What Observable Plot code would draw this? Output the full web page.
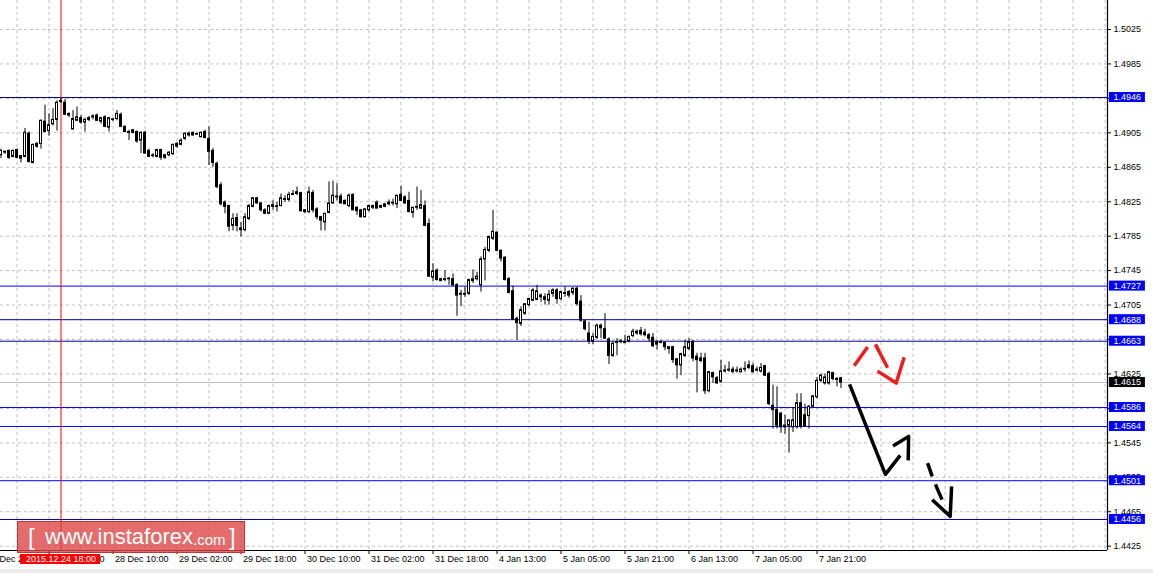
<!DOCTYPE html>
<html><head><meta charset="utf-8">
<script src="https://cdn.jsdelivr.net/npm/d3@7"></script>
<script src="https://cdn.jsdelivr.net/npm/@observablehq/plot@0.6"></script>
<style>
body{margin:0;background:#fff;}
#wrap{position:relative;width:1153px;height:573px;overflow:hidden;background:#fff;}
#wm{position:absolute;left:17px;top:521px;width:226px;height:30px;background:rgba(222,66,66,0.78);border:1px solid rgba(185,45,45,0.85);color:#fff;font-family:"Liberation Sans",Arial,sans-serif;}
#wm span{position:absolute;white-space:nowrap;}
#bot{position:absolute;left:0;top:569px;width:1153px;height:4px;background:#ececec;}
</style></head>
<body><div id="wrap"><div id="chart"></div>
<div id="wm"><span style="left:10px;top:1px;font-size:24px;font-weight:300">[</span><span style="left:27px;top:2px;font-size:22px">www.instaforex</span><span style="left:175px;top:9px;font-size:15px">.com</span><span style="left:211px;top:1px;font-size:24px;font-weight:300">]</span></div>
<div id="bot"></div></div>
<script>
// H1 candles, bar index 0..210 (bar 15 = 2015.12.24 18:00)
const open=[1.4879,1.4882,1.4884,1.4877,1.4885,1.4875,1.4877,1.4904,1.4870,1.4892,
1.4892,1.4918,1.4907,1.4915,1.4920,1.4941,1.4940,1.4925,1.4909,1.4919,
1.4922,1.4917,1.4920,1.4923,1.4925,1.4918,1.4923,1.4911,1.4920,1.4921,
1.4926,1.4912,1.4905,1.4908,1.4906,1.4896,1.4905,1.4884,1.4878,1.4877,
1.4885,1.4876,1.4879,1.4880,1.4889,1.4891,1.4898,1.4902,1.4905,1.4903,
1.4900,1.4906,1.4898,1.4884,1.4869,1.4844,1.4824,1.4820,1.4797,1.4806,
1.4794,1.4792,1.4805,1.4819,1.4829,1.4823,1.4815,1.4811,1.4819,1.4819,
1.4820,1.4828,1.4827,1.4834,1.4836,1.4835,1.4815,1.4813,1.4835,1.4816,
1.4807,1.4801,1.4812,1.4823,1.4830,1.4831,1.4826,1.4820,1.4833,1.4818,
1.4815,1.4807,1.4815,1.4818,1.4824,1.4818,1.4819,1.4822,1.4823,1.4822,
1.4833,1.4830,1.4826,1.4812,1.4818,1.4817,1.4820,1.4799,1.4737,1.4745,
1.4735,1.4734,1.4735,1.4735,1.4728,1.4717,1.4718,1.4718,1.4733,1.4735,
1.4728,1.4758,1.4768,1.4782,1.4789,1.4768,1.4760,1.4735,1.4721,1.4689,
1.4683,1.4695,1.4705,1.4710,1.4711,1.4714,1.4714,1.4710,1.4718,1.4722,
1.4712,1.4718,1.4720,1.4719,1.4724,1.4709,1.4686,1.4672,1.4663,1.4667,
1.4681,1.4677,1.4665,1.4646,1.4661,1.4662,1.4661,1.4663,1.4669,1.4672,
1.4675,1.4673,1.4670,1.4667,1.4659,1.4662,1.4661,1.4656,1.4656,1.4642,
1.4635,1.4646,1.4654,1.4662,1.4645,1.4643,1.4643,1.4605,1.4626,1.4620,
1.4616,1.4628,1.4629,1.4630,1.4628,1.4627,1.4630,1.4632,1.4634,1.4629,
1.4628,1.4634,1.4625,1.4588,1.4583,1.4579,1.4565,1.4565,1.4563,1.4563,
1.4591,1.4577,1.4576,1.4587,1.4598,1.4617,1.4614,1.4614,1.4626,1.4619,1.4620];
const high=[1.4886,1.4884,1.4885,1.4885,1.4886,1.4878,1.4910,1.4906,1.4892,1.4894,
1.4920,1.4937,1.4927,1.4933,1.4942,1.4946,1.4944,1.4928,1.4931,1.4935,
1.4925,1.4922,1.4924,1.4926,1.4927,1.4923,1.4925,1.4923,1.4922,1.4931,
1.4928,1.4913,1.4908,1.4909,1.4907,1.4906,1.4907,1.4886,1.4881,1.4886,
1.4886,1.4880,1.4883,1.4892,1.4894,1.4898,1.4905,1.4906,1.4906,1.4905,
1.4906,1.4908,1.4912,1.4887,1.4871,1.4847,1.4826,1.4821,1.4811,1.4811,
1.4801,1.4811,1.4822,1.4830,1.4830,1.4824,1.4817,1.4821,1.4826,1.4824,
1.4834,1.4832,1.4836,1.4838,1.4842,1.4836,1.4816,1.4842,1.4838,1.4818,
1.4808,1.4811,1.4848,1.4849,1.4846,1.4834,1.4827,1.4834,1.4834,1.4819,
1.4816,1.4817,1.4821,1.4821,1.4826,1.4821,1.4823,1.4827,1.4828,1.4832,
1.4843,1.4832,1.4836,1.4818,1.4842,1.4838,1.4826,1.4805,1.4753,1.4747,
1.4736,1.4745,1.4737,1.4741,1.4730,1.4722,1.4726,1.4735,1.4746,1.4743,
1.4761,1.4772,1.4785,1.4815,1.4790,1.4769,1.4761,1.4737,1.4727,1.4691,
1.4703,1.4706,1.4713,1.4724,1.4728,1.4718,1.4718,1.4722,1.4724,1.4724,
1.4721,1.4726,1.4722,1.4725,1.4726,1.4716,1.4687,1.4685,1.4672,1.4683,
1.4683,1.4695,1.4667,1.4662,1.4666,1.4665,1.4670,1.4669,1.4677,1.4676,
1.4679,1.4677,1.4672,1.4672,1.4664,1.4664,1.4662,1.4657,1.4657,1.4643,
1.4649,1.4664,1.4666,1.4664,1.4649,1.4649,1.4649,1.4628,1.4627,1.4622,
1.4641,1.4635,1.4639,1.4633,1.4633,1.4632,1.4639,1.4640,1.4637,1.4633,
1.4637,1.4635,1.4627,1.4612,1.4610,1.4580,1.4577,1.4571,1.4586,1.4602,
1.4602,1.4590,1.4588,1.4600,1.4621,1.4625,1.4625,1.4628,1.4627,1.4621,1.4621];
const low=[1.4875,1.4880,1.4874,1.4876,1.4875,1.4870,1.4876,1.4870,1.4869,1.4887,
1.4886,1.4905,1.4901,1.4913,1.4907,1.4939,1.4925,1.4923,1.4908,1.4918,
1.4915,1.4906,1.4918,1.4920,1.4918,1.4915,1.4911,1.4906,1.4918,1.4919,
1.4911,1.4905,1.4896,1.4904,1.4893,1.4881,1.4880,1.4877,1.4876,1.4876,
1.4873,1.4874,1.4877,1.4879,1.4887,1.4890,1.4896,1.4900,1.4901,1.4902,
1.4899,1.4898,1.4867,1.4865,1.4840,1.4820,1.4811,1.4790,1.4791,1.4790,
1.4784,1.4790,1.4803,1.4818,1.4822,1.4813,1.4810,1.4810,1.4815,1.4813,
1.4819,1.4824,1.4825,1.4832,1.4832,1.4813,1.4811,1.4811,1.4812,1.4804,
1.4791,1.4791,1.4811,1.4822,1.4826,1.4822,1.4822,1.4818,1.4815,1.4809,
1.4806,1.4806,1.4813,1.4816,1.4817,1.4817,1.4818,1.4820,1.4820,1.4817,
1.4825,1.4822,1.4812,1.4806,1.4815,1.4816,1.4796,1.4737,1.4732,1.4733,
1.4732,1.4732,1.4728,1.4726,1.4692,1.4703,1.4714,1.4716,1.4730,1.4733,
1.4720,1.4733,1.4766,1.4780,1.4767,1.4755,1.4733,1.4718,1.4687,1.4664,
1.4680,1.4693,1.4703,1.4709,1.4710,1.4708,1.4705,1.4705,1.4714,1.4706,
1.4710,1.4714,1.4713,1.4716,1.4704,1.4685,1.4675,1.4659,1.4659,1.4665,
1.4666,1.4665,1.4636,1.4644,1.4646,1.4660,1.4660,1.4661,1.4667,1.4670,
1.4669,1.4668,1.4662,1.4656,1.4653,1.4660,1.4652,1.4648,1.4637,1.4619,
1.4623,1.4644,1.4652,1.4639,1.4603,1.4638,1.4601,1.4603,1.4614,1.4613,
1.4614,1.4626,1.4627,1.4626,1.4626,1.4626,1.4627,1.4630,1.4626,1.4627,
1.4626,1.4622,1.4588,1.4561,1.4561,1.4556,1.4555,1.4533,1.4557,1.4561,
1.4561,1.4563,1.4561,1.4585,1.4596,1.4615,1.4612,1.4612,1.4617,1.4610,1.4608];
const close=[1.4884,1.4883,1.4876,1.4884,1.4876,1.4878,1.4905,1.4871,1.4891,1.4889,
1.4919,1.4906,1.4914,1.4920,1.4940,1.4942,1.4926,1.4927,1.4921,1.4923,
1.4917,1.4920,1.4922,1.4924,1.4919,1.4922,1.4912,1.4922,1.4920,1.4927,
1.4912,1.4906,1.4906,1.4905,1.4895,1.4905,1.4881,1.4877,1.4878,1.4885,
1.4876,1.4879,1.4882,1.4891,1.4892,1.4896,1.4904,1.4904,1.4902,1.4903,
1.4905,1.4899,1.4883,1.4870,1.4842,1.4822,1.4819,1.4796,1.4805,1.4797,
1.4792,1.4807,1.4820,1.4829,1.4823,1.4815,1.4811,1.4820,1.4821,1.4819,
1.4829,1.4827,1.4833,1.4833,1.4834,1.4814,1.4813,1.4836,1.4815,1.4807,
1.4803,1.4811,1.4823,1.4832,1.4831,1.4823,1.4822,1.4832,1.4815,1.4814,
1.4807,1.4816,1.4820,1.4820,1.4817,1.4820,1.4822,1.4824,1.4823,1.4832,
1.4826,1.4823,1.4813,1.4818,1.4819,1.4821,1.4797,1.4738,1.4744,1.4734,
1.4733,1.4735,1.4735,1.4728,1.4716,1.4718,1.4717,1.4734,1.4735,1.4738,
1.4758,1.4769,1.4784,1.4790,1.4768,1.4759,1.4734,1.4719,1.4688,1.4684,
1.4699,1.4706,1.4712,1.4722,1.4721,1.4716,1.4711,1.4717,1.4722,1.4712,
1.4720,1.4719,1.4716,1.4724,1.4706,1.4687,1.4677,1.4663,1.4668,1.4681,
1.4678,1.4666,1.4646,1.4660,1.4662,1.4662,1.4662,1.4668,1.4674,1.4674,
1.4671,1.4670,1.4666,1.4657,1.4662,1.4661,1.4656,1.4654,1.4641,1.4635,
1.4648,1.4656,1.4662,1.4643,1.4641,1.4640,1.4605,1.4627,1.4621,1.4614,
1.4628,1.4629,1.4630,1.4627,1.4629,1.4630,1.4631,1.4635,1.4627,1.4630,
1.4632,1.4623,1.4590,1.4583,1.4565,1.4563,1.4563,1.4571,1.4571,1.4591,
1.4564,1.4564,1.4587,1.4599,1.4617,1.4623,1.4621,1.4627,1.4619,1.4618,1.4615];

const levelsDark=[1.4946,1.4688,1.4663,1.4456];
const levelsLight=[1.4727,1.4586,1.4564,1.4501];
const bidPrice=1.4615;
const markedBar=15;
const markedLabel="2015.12.24 18:00";
const yTicks=[1.4425,1.4465,1.4505,1.4545,1.4585,1.4625,1.4665,1.4705,1.4745,1.4785,1.4825,1.4865,1.4905,1.4945,1.4985,1.5025];
const xTickBars=[-4,12,28,44,60,76,92,108,124,140,156,172,188,204];
const xTickLabels=["23 Dec 23:00","24 Dec 15:00","28 Dec 10:00","29 Dec 02:00","29 Dec 18:00","30 Dec 10:00","31 Dec 02:00","31 Dec 18:00","4 Jan 13:00","5 Jan 05:00","5 Jan 21:00","6 Jan 13:00","7 Jan 05:00","7 Jan 21:00"];
// hand-drawn forecast strokes: [bar position, price]
const redStrokes=[
 [[213.3,1.46346],[216.65,1.46562]],
 [[218.6,1.46593],[221.65,1.46322]],
 [[219.15,1.46283],[223.8,1.46144],[225.8,1.46445]]];
const blackStrokes=[
 [[212.15,1.46128],[221.1,1.45084],[224.8,1.45304]],
 [[223.0,1.45412],[226.9,1.45525],[226.8,1.45246]],
 [[231.65,1.45215],[232.8,1.45060]],
 [[233.6,1.44967],[235.25,1.44790]],
 [[232.8,1.44790],[237.3,1.44596],[237.65,1.44944]]];

const yMin=1.441996, yMax=1.505868, xMin=-0.125, xMax=276.625;
const K=550/(yMax-yMin); // px per price unit
const bars=open.map((o,i)=>{const c=close[i],lo=Math.min(o,c),hi=Math.max(o,c);
  return {i,o,h:high[i],l:low[i],c,b1:lo,b2:Math.max(hi,lo+0.6/K)};});
const bull=bars.filter(d=>d.c>d.o), bear=bars.filter(d=>d.c<=d.o);
const toPts=(arr)=>arr.flatMap((s,g)=>s.map(([u,p])=>({g,u,p})));
const xLab=xTickBars.map((b,k)=>({b,t:xTickLabels[k]}));
const boxH=5/K;

const chart=Plot.plot({
  width:1153,height:573,marginLeft:0,marginRight:46,marginTop:0,marginBottom:23,
  style:{fontFamily:"'Liberation Sans',Arial,sans-serif",fontSize:"9px",background:"white",color:"black"},
  x:{type:"linear",domain:[xMin,xMax]},
  y:{type:"linear",domain:[yMin,yMax]},
  marks:[
    Plot.gridX(d3.range(4,277,8),{stroke:"#c0c0c0",strokeOpacity:1,strokeDasharray:"3,3"}),
    Plot.gridY(yTicks,{stroke:"#c0c0c0",strokeOpacity:1,strokeDasharray:"3,3"}),
    Plot.ruleY([bidPrice],{stroke:"#c0c0c0",strokeWidth:1}),
    Plot.ruleY(levelsLight,{stroke:"#0000ff",strokeWidth:1}),
    Plot.ruleY(levelsDark,{stroke:"#000090",strokeWidth:1}),
    Plot.ruleX([markedBar],{stroke:"#ff0000",strokeWidth:1}),
    Plot.ruleX(bars,{x:"i",y1:"l",y2:"h",stroke:"black",strokeWidth:1}),
    Plot.rect(bear,{x1:d=>d.i-0.25,x2:d=>d.i+0.25,y1:"b1",y2:"b2",fill:"black",stroke:"black",strokeWidth:1}),
    Plot.rect(bull,{x1:d=>d.i-0.25,x2:d=>d.i+0.25,y1:"b1",y2:"b2",fill:"white",stroke:"black",strokeWidth:1}),
    Plot.line(toPts(redStrokes),{x:"u",y:"p",z:"g",stroke:"#f21c1c",strokeWidth:3.5,strokeLinecap:"butt"}),
    Plot.line(toPts(blackStrokes),{x:"u",y:"p",z:"g",stroke:"black",strokeWidth:3.5,strokeLinecap:"butt"}),
    Plot.ruleY([yMin],{stroke:"black",strokeWidth:1.2}),
    Plot.ruleX([xMax],{stroke:"black",strokeWidth:1.2}),
    Plot.axisY(yTicks,{anchor:"right",tickSize:3,tickPadding:3,tickFormat:d=>d.toFixed(4),label:null,fontSize:9}),
    Plot.axisX(xTickBars,{anchor:"bottom",tickSize:4,tickFormat:()=>"",label:null}),
    Plot.text(xLab,{x:"b",y:()=>yMin,text:"t",textAnchor:"start",dx:2,dy:9,fontSize:9,fill:"black"}),
    Plot.rect([...levelsDark,...levelsLight],{x1:()=>277.1,x2:()=>286.1,y1:d=>d-boxH,y2:d=>d+boxH,fill:"#0000ff"}),
    Plot.text([...levelsDark,...levelsLight],{x:()=>278.1,y:d=>d,text:d=>d.toFixed(4),textAnchor:"start",fill:"white",fontSize:9}),
    Plot.rect([bidPrice],{x1:()=>277.1,x2:()=>286.1,y1:d=>d-boxH,y2:d=>d+boxH,fill:"black"}),
    Plot.text([bidPrice],{x:()=>278.1,y:d=>d,text:d=>d.toFixed(4),textAnchor:"start",fill:"white",fontSize:9}),
    Plot.rect([markedBar],{x1:d=>d-10.1,x2:d=>d+9.9,y1:()=>yMin-4/K,y2:()=>yMin-14/K,fill:"#ff0000"}),
    Plot.text([markedBar],{x:d=>d,y:()=>yMin,text:()=>markedLabel,dy:9,fill:"white",fontSize:9})
  ]
});
document.getElementById("chart").appendChild(chart);
</script></body></html>
